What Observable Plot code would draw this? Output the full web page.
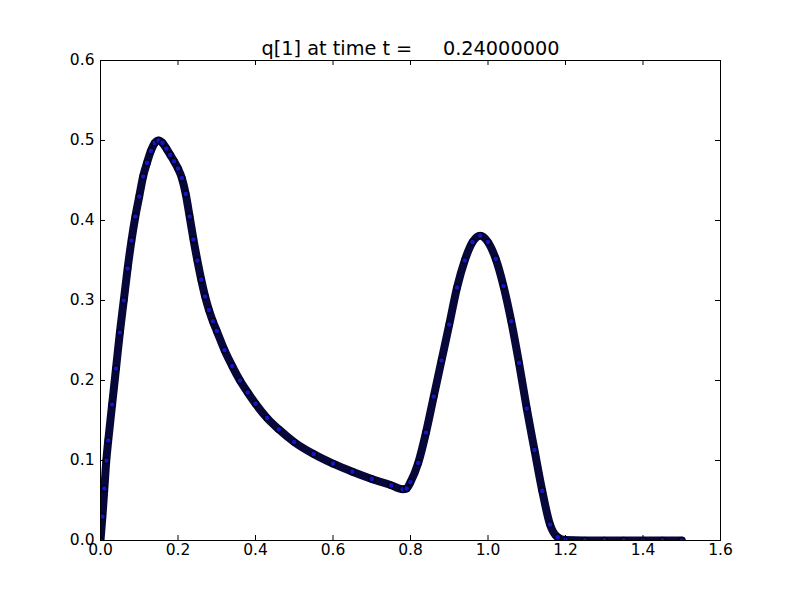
<!DOCTYPE html>
<html>
<head>
<meta charset="utf-8">
<script src="https://cdn.jsdelivr.net/npm/d3@7"></script>
<script src="https://cdn.jsdelivr.net/npm/@observablehq/plot@0.6"></script>
<style>
  html, body { margin: 0; padding: 0; background: #fff; }
  svg text { white-space: pre; }
</style>
</head>
<body>
<div id="chart"></div>
<script>
const title = "q[1] at time t =     0.24000000";
const xTicks = [0, 0.2, 0.4, 0.6, 0.8, 1.0, 1.2, 1.4, 1.6];
const yTicks = [0, 0.1, 0.2, 0.3, 0.4, 0.5, 0.6];

const xs = [0, 0.005, 0.01, 0.015, 0.02, 0.03, 0.04, 0.05, 0.06, 0.07, 0.08, 0.09, 0.10, 0.11, 0.12, 0.13, 0.14, 0.15,
  0.16, 0.17, 0.18, 0.19, 0.20, 0.21, 0.22, 0.23, 0.24, 0.25, 0.26, 0.27, 0.28, 0.29, 0.30, 0.32, 0.34, 0.36, 0.38, 0.40,
  0.43, 0.46, 0.50, 0.55, 0.60, 0.65, 0.70, 0.75, 0.78, 0.79, 0.80, 0.82, 0.84, 0.86, 0.88, 0.90, 0.92, 0.94, 0.96, 0.98,
  1.00, 1.02, 1.04, 1.06, 1.08, 1.10, 1.12, 1.14, 1.16, 1.18, 1.20, 1.25, 1.30, 1.35, 1.40, 1.45, 1.50];
const ys = [0, 0.03, 0.065, 0.10, 0.125, 0.17, 0.215, 0.26, 0.30, 0.34, 0.375, 0.405, 0.43, 0.455, 0.472, 0.487, 0.497, 0.50,
  0.497, 0.49, 0.482, 0.474, 0.465, 0.453, 0.433, 0.405, 0.376, 0.35, 0.326, 0.305, 0.288, 0.274, 0.262, 0.238, 0.218, 0.20, 0.185, 0.171,
  0.153, 0.139, 0.123, 0.108, 0.096, 0.086, 0.077, 0.069, 0.064, 0.065, 0.073, 0.097, 0.135, 0.18, 0.225, 0.27, 0.316, 0.35, 0.373, 0.381,
  0.373, 0.352, 0.318, 0.274, 0.222, 0.165, 0.113, 0.062, 0.02, 0.004, 0.0005, 0, 0, 0, 0, 0, 0];

const data = xs.map((x, i) => ({x, y: ys[i]}));

const W = 800, H = 600, mL = 100, mR = 80, mT = 60, mB = 60;
const fw = W - mL - mR, fh = H - mT - mB;
const tick = 5;

const chart = Plot.plot({
  width: W, height: H,
  marginLeft: mL, marginRight: mR, marginTop: mT, marginBottom: mB,
  style: {fontFamily: "DejaVu Sans", fontSize: "15.5px", color: "black", background: "white"},
  x: {domain: [0, 1.6], label: null},
  y: {domain: [0, 0.6], label: null},
  marks: [
    Plot.line(data, {x: "x", y: "y", stroke: "#07073a", strokeWidth: 8, curve: "monotone-x", clip: true}),
    Plot.dot(data, {x: "x", y: "y", r: 3, fill: "#1414c8", stroke: "#000010", strokeWidth: 1.3, clip: true}),
    Plot.ruleX(xTicks, {x: d => d, insetTop: fh - tick, stroke: "black"}),
    Plot.ruleX(xTicks, {x: d => d, insetBottom: fh - tick, stroke: "black"}),
    Plot.ruleY(yTicks, {y: d => d, insetRight: fw - tick, stroke: "black"}),
    Plot.ruleY(yTicks, {y: d => d, insetLeft: fw - tick, stroke: "black"}),
    Plot.frame({stroke: "black", strokeWidth: 1}),
    Plot.axisX(xTicks, {tickSize: 0, tickPadding: 3, tickFormat: d3.format(".1f"), fontSize: 15.5, label: null}),
    Plot.axisY(yTicks, {tickSize: 0, tickPadding: 6, tickFormat: d3.format(".1f"), fontSize: 15.5, label: null}),
    Plot.text([title], {frameAnchor: "top", dy: -6, lineAnchor: "bottom", text: d => d, fontSize: 19.3, fill: "black"})
  ]
});
document.getElementById("chart").appendChild(chart);
</script>
</body>
</html>
